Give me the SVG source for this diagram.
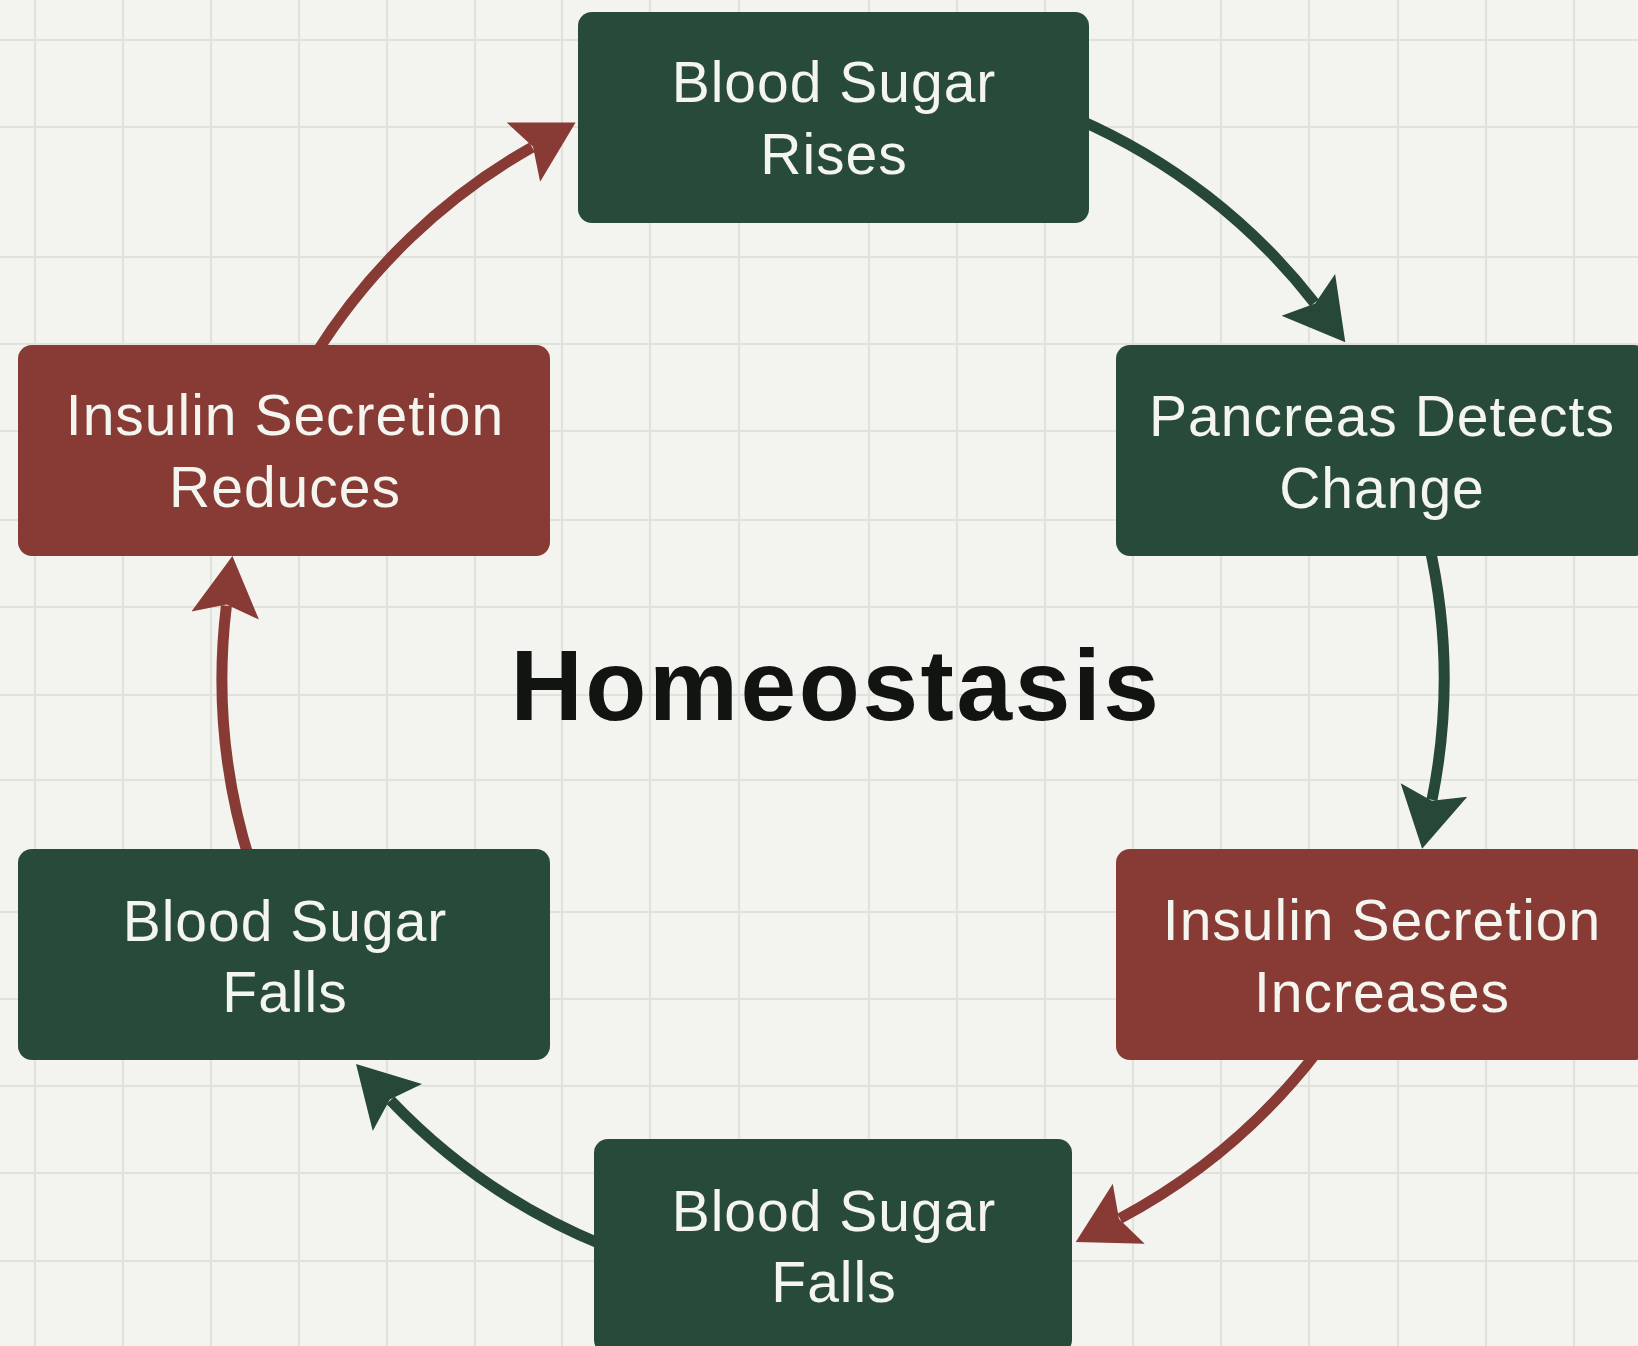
<svg xmlns="http://www.w3.org/2000/svg" width="1638" height="1346" viewBox="0 0 1638 1346">
  <defs>
    <style>
      .grid { stroke: #e1e2dc; stroke-width: 2.2; fill: none; }
      .green { fill: #284b39; }
      .red { fill: #883a35; }
      .lbl { font-family: "Liberation Sans", Arial, sans-serif; font-size: 57px; fill: #f4f5ef; text-anchor: middle; letter-spacing: 1px; }
      .title { font-family: "Liberation Sans", Arial, sans-serif; font-size: 100px; font-weight: bold; fill: #121412; text-anchor: middle; letter-spacing: 2.6px; }
      .cg { stroke: #274836; stroke-width: 11; fill: none; }
      .cr { stroke: #883a35; stroke-width: 11; fill: none; }
    </style>
    <marker id="ahG" viewBox="0 -36 62 72" refX="10" refY="0" markerWidth="62" markerHeight="72" markerUnits="userSpaceOnUse" orient="auto">
      <path d="M0,-34 L60,0 L0,34 L11,0 Z" fill="#274836"/>
    </marker>
    <marker id="ahR" viewBox="0 -36 62 72" refX="10" refY="0" markerWidth="62" markerHeight="72" markerUnits="userSpaceOnUse" orient="auto">
      <path d="M0,-34 L60,0 L0,34 L11,0 Z" fill="#883a35"/>
    </marker>
  </defs>

  <rect x="0" y="0" width="1638" height="1346" fill="#f3f4ef"/>

  <g id="grid" class="grid">
    <path d="M35,0V1346 M123,0V1346 M211,0V1346 M299,0V1346 M387,0V1346 M475,0V1346 M562,0V1346 M650,0V1346 M739,0V1346 M869,0V1346 M957,0V1346 M1045,0V1346 M1133,0V1346 M1221,0V1346 M1309,0V1346 M1398,0V1346 M1486,0V1346 M1574,0V1346"/>
    <path d="M0,40H1638 M0,127H1638 M0,257H1638 M0,344H1638 M0,431H1638 M0,520H1638 M0,607H1638 M0,695H1638 M0,780H1638 M0,912H1638 M0,999H1638 M0,1086H1638 M0,1173H1638 M0,1261H1638"/>
  </g>

  <g id="connectors">
    <path class="cg" d="M1076.6,118.7 A611,611 0 0 1 1314.5,302.8" marker-end="url(#ahG)"/>
    <path class="cg" d="M1428.4,541.5 A611,611 0 0 1 1432.0,799.8" marker-end="url(#ahG)"/>
    <path class="cr" d="M1317.8,1051.0 A611,611 0 0 1 1119.9,1218.5" marker-end="url(#ahR)"/>
    <path class="cg" d="M604.1,1245.5 A611,611 0 0 1 390.5,1100.3" marker-end="url(#ahG)"/>
    <path class="cr" d="M250.3,862.7 A611,611 0 0 1 226.4,605.6" marker-end="url(#ahR)"/>
    <path class="cr" d="M314.9,355.2 A611,611 0 0 1 532.1,147.2" marker-end="url(#ahR)"/>
  </g>

  <g id="node-rises">
    <rect class="green" x="578" y="12" width="511" height="211" rx="14"/>
    <text class="lbl" x="834" y="102">Blood Sugar</text>
    <text class="lbl" x="834" y="174">Rises</text>
  </g>

  <g id="node-pancreas">
    <rect class="green" x="1116" y="345" width="532" height="211" rx="14"/>
    <text class="lbl" x="1382" y="436">Pancreas Detects</text>
    <text class="lbl" x="1382" y="508">Change</text>
  </g>

  <g id="node-increases">
    <rect class="red" x="1116" y="849" width="532" height="211" rx="14"/>
    <text class="lbl" x="1382" y="940">Insulin Secretion</text>
    <text class="lbl" x="1382" y="1012">Increases</text>
  </g>

  <g id="node-falls-bottom">
    <rect class="green" x="594" y="1139" width="478" height="215" rx="14"/>
    <text class="lbl" x="834" y="1231">Blood Sugar</text>
    <text class="lbl" x="834" y="1302">Falls</text>
  </g>

  <g id="node-falls-left">
    <rect class="green" x="18" y="849" width="532" height="211" rx="14"/>
    <text class="lbl" x="285" y="941">Blood Sugar</text>
    <text class="lbl" x="285" y="1012">Falls</text>
  </g>

  <g id="node-reduces">
    <rect class="red" x="18" y="345" width="532" height="211" rx="14"/>
    <text class="lbl" x="285" y="435">Insulin Secretion</text>
    <text class="lbl" x="285" y="507">Reduces</text>
  </g>

  <g id="title">
    <text class="title" x="836" y="720">Homeostasis</text>
  </g>
</svg>
